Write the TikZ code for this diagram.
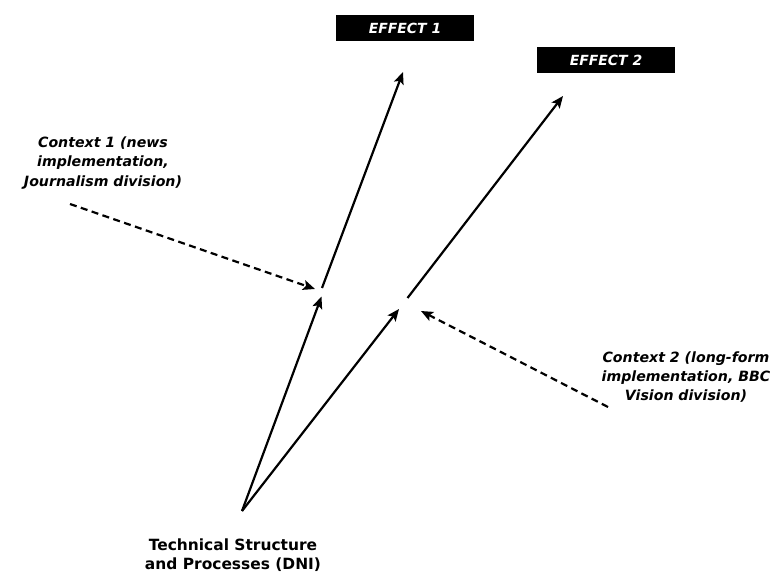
\documentclass[tikz,border=0pt]{standalone}
\usepackage{fontspec}
\setmainfont{DejaVu Sans}
\usetikzlibrary{arrows.meta}
\begin{document}
\begin{tikzpicture}[x=1bp,y=-1bp,
  link/.style={line width=2.2pt,-{Stealth[length=12pt,width=10pt,inset=2.5pt]}},
  ctxlink/.style={link,dash pattern=on 7pt off 4.5pt},
  effect/.style={fill=black,text=white,minimum width=138bp,minimum height=26bp,inner sep=0pt,
    font=\fontsize{14}{16}\selectfont\bfseries\itshape},
  ctxlabel/.style={align=center,font=\fontsize{14.2}{19.5}\selectfont\bfseries\itshape},
  srclabel/.style={align=center,font=\fontsize{15.5}{18.5}\selectfont\bfseries}]
\useasboundingbox (0,0) rectangle (776,574);
% outcome boxes
\node[effect] (e1) at (405,28) {EFFECT 1};
\node[effect] (e2) at (606,60) {EFFECT 2};
% source and labels
\node[srclabel] (src) at (233,555) {Technical Structure\\and Processes (DNI)};
\node[ctxlabel] (c1) at (103,163) {Context 1 (news\\implementation,\\Journalism division)};
\node[ctxlabel] (c2) at (686,377) {Context 2 (long-form\\implementation, BBC\\Vision division)};
% junction points
\coordinate (o) at (242,511);
\coordinate (m1in) at (321.5,296.5);
\coordinate (m1out) at (322,288);
\coordinate (t1) at (403,72);
\coordinate (m2in) at (399,309);
\coordinate (m2out) at (407.5,298);
\coordinate (t2) at (563,96);
\coordinate (d1) at (70,204);
\coordinate (d1end) at (315,289);
\coordinate (d2) at (608,407);
\coordinate (d2end) at (421,311);
% causal paths
\draw[link] (o) -- (m1in);
\draw[link] (m1out) -- (t1);
\draw[link] (o) -- (m2in);
\draw[link] (m2out) -- (t2);
% context influences
\draw[ctxlink] (d1) -- (d1end);
\draw[ctxlink] (d2) -- (d2end);
\end{tikzpicture}
\end{document}
